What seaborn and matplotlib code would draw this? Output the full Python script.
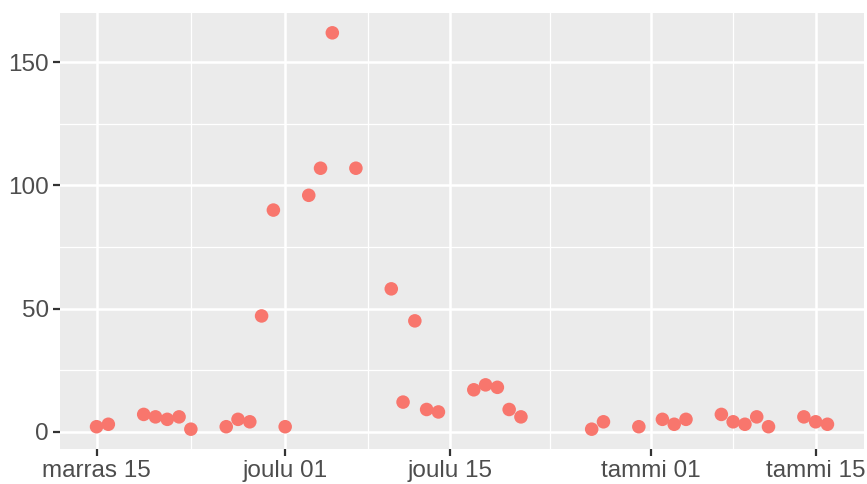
import pandas as pd
import seaborn as sns
import matplotlib.pyplot as plt
import matplotlib.dates as mdates
from matplotlib.ticker import FixedLocator

# dates and daily counts
dates = ['2020-11-15', '2020-11-16', '2020-11-19', '2020-11-20', '2020-11-21',
         '2020-11-22', '2020-11-23', '2020-11-26', '2020-11-27', '2020-11-28',
         '2020-11-29', '2020-11-30', '2020-12-01', '2020-12-03', '2020-12-04',
         '2020-12-05', '2020-12-07', '2020-12-10', '2020-12-11', '2020-12-12',
         '2020-12-13', '2020-12-14', '2020-12-17', '2020-12-18', '2020-12-19',
         '2020-12-20', '2020-12-21', '2020-12-27', '2020-12-28', '2020-12-31',
         '2021-01-02', '2021-01-03', '2021-01-04', '2021-01-07', '2021-01-08',
         '2021-01-09', '2021-01-10', '2021-01-11', '2021-01-14', '2021-01-15',
         '2021-01-16']
counts = [2, 3, 7, 6, 5, 6, 1, 2, 5, 4, 47, 90, 2, 96, 107, 162, 107, 58, 12, 45,
          9, 8, 17, 19, 18, 9, 6, 1, 4, 2, 5, 3, 5, 7, 4, 3, 6, 2, 6, 4, 3]

x_breaks = ['2020-11-15', '2020-12-01', '2020-12-15', '2021-01-01', '2021-01-15']
x_labels = ['marras 15', 'joulu 01', 'joulu 15', 'tammi 01', 'tammi 15']
y_breaks = [0, 50, 100, 150]

df = pd.DataFrame({'date': pd.to_datetime(dates), 'n': counts})

fig = plt.figure(figsize=(8.67, 4.84), dpi=100)
ax = fig.add_axes([60 / 867, 35 / 484, 804 / 867, 436 / 484])

sns.scatterplot(data=df, x='date', y='n', ax=ax, color='#F8766D', s=95,
                edgecolor='none', zorder=3)

# ggplot-like expansion (5%)
xnum = mdates.date2num(df['date'])
xr = xnum.max() - xnum.min()
ax.set_xlim(xnum.min() - 0.05 * xr, xnum.max() + 0.05 * xr)
yr = max(counts) - min(counts)
ax.set_ylim(min(counts) - 0.05 * yr, max(counts) + 0.05 * yr)

xb = mdates.date2num(pd.to_datetime(x_breaks))
ax.set_xticks(xb)
ax.set_xticklabels(x_labels)
ax.xaxis.set_minor_locator(FixedLocator([(a + b) / 2 for a, b in zip(xb[:-1], xb[1:])]))
ax.set_yticks(y_breaks)
ax.yaxis.set_minor_locator(FixedLocator([25, 75, 125]))

ax.set_facecolor('#EBEBEB')
ax.grid(which='major', color='white', linewidth=1.8)
ax.grid(which='minor', color='white', linewidth=0.9)
ax.set_axisbelow(True)
for sp in ax.spines.values():
    sp.set_visible(False)
ax.tick_params(which='major', length=5, width=1.6, color='#333333',
               labelsize=17.5, labelcolor='#4D4D4D', pad=3)
ax.tick_params(which='minor', length=0)
for lab in ax.get_xticklabels() + ax.get_yticklabels():
    lab.set_family(['Liberation Sans', 'DejaVu Sans'])
ax.set_xlabel('')
ax.set_ylabel('')

fig.savefig('out.png', dpi=100)
